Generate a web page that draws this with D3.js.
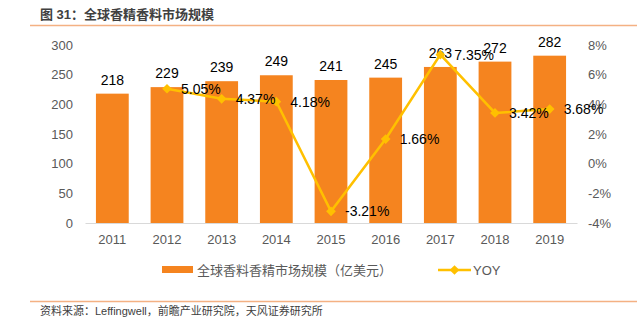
<!DOCTYPE html>
<html><head><meta charset="utf-8">
<script src="https://cdn.jsdelivr.net/npm/d3@7"></script>
<style>body{margin:0;background:#fff}svg{display:block}</style>
</head><body>
<svg id="c" width="637" height="323"></svg>
<script>
const years = ["2011","2012","2013","2014","2015","2016","2017","2018","2019"];
const marketSize = [218,229,239,249,241,245,263,272,282];
const yoy = [null,5.05,4.37,4.18,-3.21,1.66,7.35,3.42,3.68];
const leftTicks = [0,50,100,150,200,250,300];
const rightTicks = [-4,-2,0,2,4,6,8];
const barName = "全球香料香精市场规模（亿美元）";
const lineName = "YOY";
const title = "图 31：全球香精香料市场规模";
const source = "资料来源：Leffingwell，前瞻产业研究院，天风证券研究所";

const FONT = "'Liberation Sans','Noto Sans CJK SC',Arial,sans-serif";
const svg = d3.select("#c").style("font-family", FONT);
const W = 637, H = 323;
const m = {l:85, r:577, t:45, b:223};
const barColor = "#F5841F", lineColor = "#FFC000", axisText = "#595959";

// title & rules
svg.append("text").attr("x",40).attr("y",19).attr("font-size",13).attr("font-weight","bold")
  .attr("fill","#404040").text(title);
svg.append("line").attr("x1",30).attr("x2",W).attr("y1",25.5).attr("y2",25.5)
  .attr("stroke","#F4B183").attr("stroke-width",1.5);
svg.append("line").attr("x1",30).attr("x2",W).attr("y1",301.5).attr("y2",301.5)
  .attr("stroke","#F4B183").attr("stroke-width",1.5);
svg.append("text").attr("x",40).attr("y",315).attr("font-size",11).attr("fill","#404040").text(source);

const x = d3.scaleBand().domain(years).range([m.l,m.r]).paddingInner(0.4).paddingOuter(0.2);
const y = d3.scaleLinear().domain([0,300]).range([m.b,m.t]);
const y2 = d3.scaleLinear().domain([-4,8]).range([m.b,m.t]);

// left axis
const gl = svg.append("g").attr("transform",`translate(${m.l-12},0)`)
  .call(d3.axisLeft(y).tickValues(leftTicks).tickSize(0).tickPadding(0));
gl.select(".domain").remove();
gl.selectAll("text").attr("font-size",13).attr("fill",axisText).attr("font-family",FONT);
// right axis
const gr = svg.append("g").attr("transform",`translate(${m.r+11},0)`)
  .call(d3.axisRight(y2).tickValues(rightTicks).tickSize(0).tickPadding(0).tickFormat(d=>d+"%"));
gr.select(".domain").remove();
gr.selectAll("text").attr("font-size",13).attr("fill",axisText).attr("font-family",FONT);
// bottom axis
const gb = svg.append("g").attr("transform",`translate(0,${m.b})`)
  .call(d3.axisBottom(x).tickSize(0).tickPadding(12));
gb.select(".domain").attr("stroke","#D9D9D9");
gb.selectAll("text").attr("font-size",13).attr("fill",axisText).attr("font-family",FONT);

// bars
svg.selectAll("rect.bar").data(years).join("rect").attr("class","bar")
  .attr("x",d=>x(d)).attr("width",x.bandwidth())
  .attr("y",(d,i)=>y(marketSize[i])).attr("height",(d,i)=>m.b-y(marketSize[i]))
  .attr("fill",barColor);
svg.selectAll("text.bl").data(years).join("text").attr("class","bl")
  .attr("x",d=>x(d)+x.bandwidth()/2).attr("y",(d,i)=>y(marketSize[i])-9)
  .attr("text-anchor","middle").attr("font-size",14).attr("fill","#000")
  .text((d,i)=>marketSize[i]);

// line
const pts = years.map((d,i)=>({d,v:yoy[i]})).filter(p=>p.v!==null);
const cx = d=>x(d)+x.bandwidth()/2;
svg.append("path").datum(pts)
  .attr("d",d3.line().x(p=>cx(p.d)).y(p=>y2(p.v)))
  .attr("fill","none").attr("stroke",lineColor).attr("stroke-width",2.5);
const diamond = d3.symbol().type(d3.symbolDiamond2).size(60);
svg.selectAll("path.mk").data(pts).join("path").attr("class","mk")
  .attr("d",diamond).attr("transform",p=>`translate(${cx(p.d)},${y2(p.v)})`)
  .attr("fill",lineColor);
svg.selectAll("text.ll").data(pts).join("text").attr("class","ll")
  .attr("x",p=>cx(p.d)+14).attr("y",p=>y2(p.v)+5)
  .attr("font-size",14).attr("fill","#000").text(p=>p.v.toFixed(2)+"%");

// legend
const lg = svg.append("g");
lg.append("rect").attr("x",162).attr("y",266).attr("width",31).attr("height",7).attr("fill",barColor);
lg.append("text").attr("x",197).attr("y",275).attr("font-size",13).attr("fill",axisText).text(barName);
lg.append("line").attr("x1",438).attr("x2",471).attr("y1",270).attr("y2",270)
  .attr("stroke",lineColor).attr("stroke-width",2.5);
lg.append("path").attr("d",diamond).attr("transform","translate(454.5,270)").attr("fill",lineColor);
lg.append("text").attr("x",473).attr("y",275).attr("font-size",13).attr("fill",axisText).text(lineName);
</script>
</body></html>
